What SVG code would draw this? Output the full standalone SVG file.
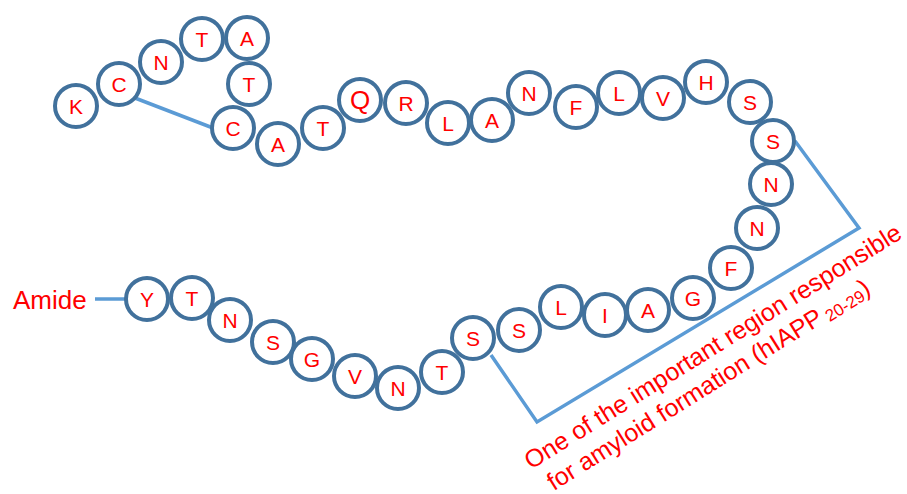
<svg xmlns="http://www.w3.org/2000/svg" width="907" height="494" viewBox="0 0 907 494">
<style>
.n circle{fill:#fff;stroke:#41719C;stroke-width:4}
.n text{font-family:"Liberation Sans",Arial,sans-serif;font-size:21px;fill:#FF0000;text-anchor:middle}
.c{fill:none;stroke:#5B9BD5;stroke-width:3.5;stroke-linejoin:miter}
.lbl{font-family:"Liberation Sans",Arial,sans-serif;fill:#FF0000}
</style>
<rect width="907" height="494" fill="#fff"/>
<g id="connectors">
<line class="c" x1="135" y1="98" x2="213" y2="128"/>
<line class="c" x1="95" y1="299" x2="127" y2="299"/>
<polyline class="c" points="795,141 859,228 537,422 491,355"/>
</g>
<g id="n1" class="n"><circle cx="76" cy="106" r="21"/><text x="76" y="114">K</text></g>
<g id="n2" class="n"><circle cx="119" cy="84" r="21"/><text x="119" y="92">C</text></g>
<g id="n3" class="n"><circle cx="161" cy="62" r="21"/><text x="161" y="70">N</text></g>
<g id="n4" class="n"><circle cx="202" cy="39" r="21"/><text x="202" y="47">T</text></g>
<g id="n5" class="n"><circle cx="247" cy="38" r="21"/><text x="247" y="46">A</text></g>
<g id="n6" class="n"><circle cx="249" cy="84" r="21"/><text x="249" y="92">T</text></g>
<g id="n7" class="n"><circle cx="233" cy="128" r="21"/><text x="233" y="136">C</text></g>
<g id="n8" class="n"><circle cx="278" cy="144" r="21"/><text x="278" y="152">A</text></g>
<g id="n9" class="n"><circle cx="323" cy="128" r="21"/><text x="323" y="136">T</text></g>
<g id="n10" class="n"><circle cx="360" cy="100" r="21"/><text x="360" y="109" style="font-size:26px">Q</text></g>
<g id="n11" class="n"><circle cx="406" cy="103" r="21"/><text x="406" y="111">R</text></g>
<g id="n12" class="n"><circle cx="448" cy="123" r="21"/><text x="448" y="131">L</text></g>
<g id="n13" class="n"><circle cx="492" cy="120" r="21"/><text x="492" y="128">A</text></g>
<g id="n14" class="n"><circle cx="529" cy="93" r="21"/><text x="529" y="101">N</text></g>
<g id="n15" class="n"><circle cx="576" cy="107" r="21"/><text x="576" y="115">F</text></g>
<g id="n16" class="n"><circle cx="619" cy="93" r="21"/><text x="619" y="101">L</text></g>
<g id="n17" class="n"><circle cx="663" cy="98" r="21"/><text x="663" y="106">V</text></g>
<g id="n18" class="n"><circle cx="706" cy="82" r="21"/><text x="706" y="90">H</text></g>
<g id="n19" class="n"><circle cx="750" cy="102" r="21"/><text x="750" y="110">S</text></g>
<g id="n20" class="n"><circle cx="773" cy="141" r="21"/><text x="773" y="149">S</text></g>
<g id="n21" class="n"><circle cx="771" cy="184" r="21"/><text x="771" y="192">N</text></g>
<g id="n22" class="n"><circle cx="757" cy="228" r="21"/><text x="757" y="236">N</text></g>
<g id="n23" class="n"><circle cx="731" cy="268" r="21"/><text x="731" y="276">F</text></g>
<g id="n24" class="n"><circle cx="693" cy="298" r="21"/><text x="693" y="306">G</text></g>
<g id="n25" class="n"><circle cx="648" cy="310" r="21"/><text x="648" y="318">A</text></g>
<g id="n26" class="n"><circle cx="605" cy="315" r="21"/><text x="605" y="323">I</text></g>
<g id="n27" class="n"><circle cx="561" cy="307" r="21"/><text x="561" y="315">L</text></g>
<g id="n28" class="n"><circle cx="519" cy="330" r="21"/><text x="519" y="338">S</text></g>
<g id="n29" class="n"><circle cx="473" cy="338" r="21"/><text x="473" y="346">S</text></g>
<g id="n30" class="n"><circle cx="442" cy="372" r="21"/><text x="442" y="380">T</text></g>
<g id="n31" class="n"><circle cx="398" cy="388" r="21"/><text x="398" y="396">N</text></g>
<g id="n32" class="n"><circle cx="355" cy="376" r="21"/><text x="355" y="384">V</text></g>
<g id="n33" class="n"><circle cx="312" cy="359" r="21"/><text x="312" y="367">G</text></g>
<g id="n34" class="n"><circle cx="273" cy="342" r="21"/><text x="273" y="350">S</text></g>
<g id="n35" class="n"><circle cx="230" cy="320" r="21"/><text x="230" y="328">N</text></g>
<g id="n36" class="n"><circle cx="192" cy="298" r="21"/><text x="192" y="306">T</text></g>
<g id="n37" class="n"><circle cx="147" cy="299" r="21"/><text x="147" y="307">Y</text></g>
<g id="amide"><text class="lbl" x="13" y="309" style="font-size:26px">Amide</text></g>
<g id="region-label" transform="translate(531,470) rotate(-32)">
<text class="lbl" x="0" y="0" style="font-size:25px">One of the important region responsible</text>
<text class="lbl" x="8" y="30" style="font-size:25px">for amyloid formation (hIAPP<tspan style="font-size:17px" dx="4" dy="3">20-29</tspan><tspan dy="-3">)</tspan></text>
</g>
</svg>
